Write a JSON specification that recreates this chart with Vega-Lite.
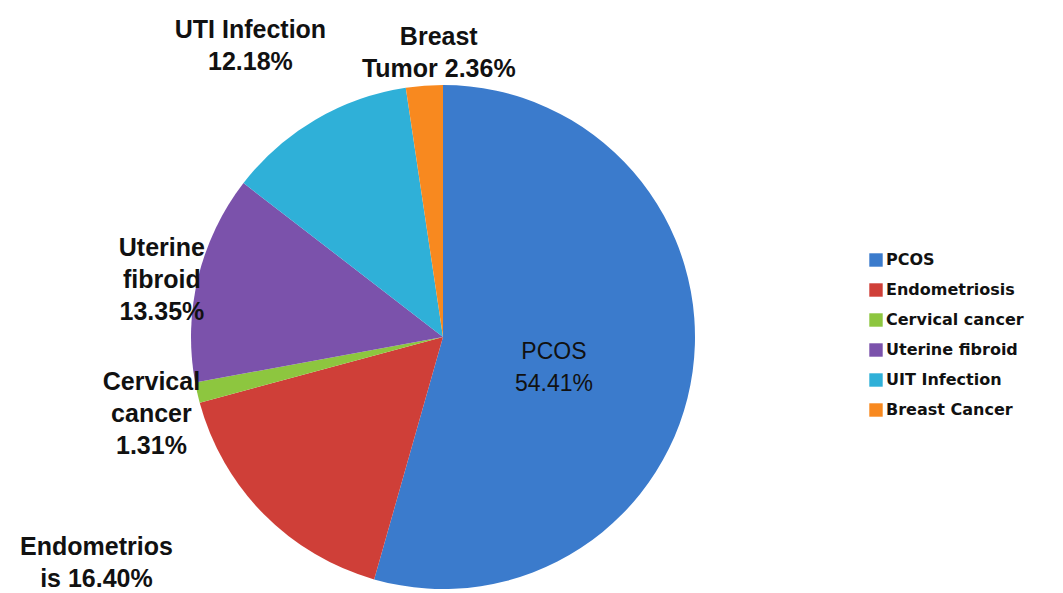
{
  "$schema": "https://vega.github.io/schema/vega-lite/v6.json",
  "autosize": {"type": "none"},
  "width": 504,
  "height": 504,
  "padding": {"left": 191, "top": 85, "right": 368, "bottom": 4},
  "background": "white",
  "data": {
    "values": [
      {"order": 1, "legend": "PCOS", "value": 54.41, "label": ["PCOS", "54.41%"]},
      {"order": 2, "legend": "Endometriosis", "value": 16.40, "label": ["Endometrios", "is 16.40%"]},
      {"order": 3, "legend": "Cervical cancer", "value": 1.31, "label": ["Cervical", "cancer", "1.31%"]},
      {"order": 4, "legend": "Uterine fibroid", "value": 13.35, "label": ["Uterine", "fibroid", "13.35%"]},
      {"order": 5, "legend": "UIT Infection", "value": 12.18, "label": ["UTI Infection", "12.18%"]},
      {"order": 6, "legend": "Breast Cancer", "value": 2.36, "label": ["Breast", "Tumor 2.36%"]}
    ]
  },
  "encoding": {
    "theta": {"field": "value", "type": "quantitative", "stack": true},
    "order": {"field": "order", "type": "quantitative"}
  },
  "layer": [
    {
      "mark": {"type": "arc", "outerRadius": 252},
      "encoding": {
        "color": {
          "field": "legend",
          "type": "nominal",
          "sort": ["PCOS", "Endometriosis", "Cervical cancer", "Uterine fibroid", "UIT Infection", "Breast Cancer"],
          "scale": {
            "domain": ["PCOS", "Endometriosis", "Cervical cancer", "Uterine fibroid", "UIT Infection", "Breast Cancer"],
            "range": ["#3B7BCC", "#CF3F38", "#8DC63F", "#7B52AB", "#2FB0D8", "#F8891F"]
          },
          "legend": {
            "title": null,
            "orient": "none",
            "legendX": 677,
            "legendY": 167,
            "symbolType": "square",
            "symbolSize": 180,
            "symbolStrokeWidth": 0,
            "labelFont": "DejaVu Sans",
            "labelFontWeight": "bold",
            "labelFontSize": 16,
            "labelColor": "#111111",
            "rowPadding": 14,
            "labelOffset": 2
          }
        }
      }
    },
    {
      "mark": {"type": "text", "radius": 112, "font": "Liberation Sans", "fontSize": 23, "color": "#111111", "lineHeight": 32},
      "encoding": {
        "text": {"condition": {"test": "datum.legend === 'PCOS'", "field": "label"}, "value": ""}
      }
    },
    {
      "mark": {"type": "text", "radius": 295, "thetaOffset": 0.07, "font": "Liberation Sans", "fontWeight": "bold", "fontSize": 25, "color": "#111111", "lineHeight": 32},
      "encoding": {
        "text": {"condition": {"test": "datum.legend === 'Cervical cancer' || datum.legend === 'Uterine fibroid'", "field": "label"}, "value": ""}
      }
    },
    {
      "mark": {"type": "text", "radius": 300, "thetaOffset": 0.06, "font": "Liberation Sans", "fontWeight": "bold", "fontSize": 25, "color": "#111111", "lineHeight": 32},
      "encoding": {
        "text": {"condition": {"test": "datum.legend === 'Breast Cancer'", "field": "label"}, "value": ""}
      }
    },
    {
      "mark": {"type": "text", "radius": 362, "thetaOffset": -0.03, "font": "Liberation Sans", "fontWeight": "bold", "fontSize": 25, "color": "#111111", "lineHeight": 32},
      "encoding": {
        "text": {"condition": {"test": "datum.legend === 'UIT Infection'", "field": "label"}, "value": ""}
      }
    },
    {
      "mark": {"type": "text", "radius": 405, "thetaOffset": 0.235, "font": "Liberation Sans", "fontWeight": "bold", "fontSize": 25, "color": "#111111", "lineHeight": 32},
      "encoding": {
        "text": {"condition": {"test": "datum.legend === 'Endometriosis'", "field": "label"}, "value": ""}
      }
    }
  ]
}
